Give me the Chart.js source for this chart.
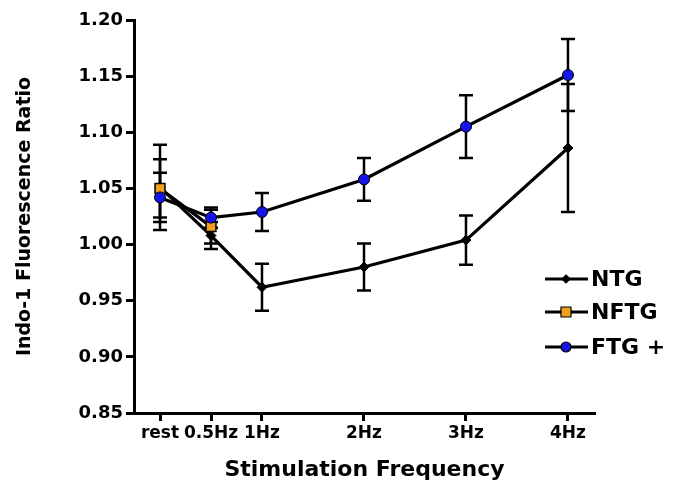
<!DOCTYPE html>
<html>
<head>
<meta charset="utf-8">
<script src="https://cdn.jsdelivr.net/npm/chart.js@4"></script>
<style>
  html, body { margin: 0; padding: 0; background: #fff; }
  #wrap { width: 683px; height: 484px; position: relative; }
</style>
</head>
<body>
<div id="wrap"><canvas id="grafik"></canvas></div>
<script>
// frekvencije stimulacije (rest = 0 Hz)
const frekvencije = [0, 0.5, 1, 2, 3, 4];
const oznake = ['rest', '0.5Hz', '1Hz', '2Hz', '3Hz', '4Hz'];

const ntg = [1.051, 1.008, 0.962, 0.980, 1.004, 1.086];
const ntgGreska = [0.038, 0.012, 0.021, 0.021, 0.022, 0.057];

const nftg = [1.050, 1.016, null, null, null, null];
const nftgGreska = [0.026, 0.015, null, null, null, null];

const ftg = [1.042, 1.024, 1.029, 1.058, 1.105, 1.151];
const ftgGreska = [0.022, 0.009, 0.017, 0.019, 0.028, 0.032];

const yTicks = [0.85, 0.90, 0.95, 1.00, 1.05, 1.10, 1.15, 1.20];

const FONT = "'DejaVu Sans', sans-serif";

function tacke(vrijednosti) {
    return frekvencije.map((f, i) => ({ x: f, y: vrijednosti[i] }));
}

const greske = [ntgGreska, nftgGreska, ftgGreska];

const errorBars = {
    id: 'errorBars',
    beforeDatasetsDraw(chart) {
        const ctx = chart.ctx;
        const xs = chart.scales.x;
        const ys = chart.scales.y;
        ctx.save();
        ctx.strokeStyle = '#000';
        ctx.lineWidth = 2.5;
        chart.data.datasets.forEach((ds, di) => {
            ds.data.forEach((p, i) => {
                const e = greske[di][i];
                if (p.y == null || e == null) return;
                const px = xs.getPixelForValue(p.x);
                const top = ys.getPixelForValue(p.y + e);
                const bot = ys.getPixelForValue(p.y - e);
                ctx.beginPath();
                ctx.moveTo(px, top); ctx.lineTo(px, bot);
                ctx.moveTo(px - 7, top); ctx.lineTo(px + 7, top);
                ctx.moveTo(px - 7, bot); ctx.lineTo(px + 7, bot);
                ctx.stroke();
            });
        });
        ctx.restore();
    }
};

const legenda = {
    id: 'legenda',
    afterDraw(chart) {
        const ctx = chart.ctx;
        const x0 = chart.chartArea.right - 50;
        const stavke = [
            { t: 'NTG', y: 279, ds: chart.data.datasets[0] },
            { t: 'NFTG', y: 312, ds: chart.data.datasets[1] },
            { t: 'FTG +', y: 347, ds: chart.data.datasets[2] }
        ];
        ctx.save();
        stavke.forEach(s => {
            const cx = x0 + 21;
            ctx.strokeStyle = '#000';
            ctx.lineWidth = 3;
            ctx.beginPath();
            ctx.moveTo(x0, s.y); ctx.lineTo(x0 + 43, s.y);
            ctx.stroke();
            ctx.fillStyle = s.ds.pointBackgroundColor;
            ctx.lineWidth = 1.2;
            ctx.beginPath();
            if (s.ds.pointStyle === 'circle') {
                ctx.arc(cx, s.y, 5, 0, Math.PI * 2);
            } else if (s.ds.pointStyle === 'rect') {
                ctx.rect(cx - 5, s.y - 5, 10, 10);
            } else {
                ctx.moveTo(cx, s.y - 4); ctx.lineTo(cx + 4, s.y);
                ctx.lineTo(cx, s.y + 4); ctx.lineTo(cx - 4, s.y);
                ctx.closePath();
            }
            ctx.fill();
            ctx.stroke();
            ctx.fillStyle = '#000';
            ctx.font = 'bold 22px ' + FONT;
            ctx.textBaseline = 'middle';
            ctx.fillText(s.t, x0 + 46, s.y + 1);
        });
        ctx.restore();
    }
};

const osa = {
    display: true,
    color: '#000',
    width: 3
};

new Chart(document.getElementById('grafik'), {
    type: 'line',
    data: {
        datasets: [
            {
                label: 'NTG',
                data: tacke(ntg),
                borderColor: '#000',
                borderWidth: 3.2,
                pointStyle: 'rectRot',
                pointRadius: 5,
                pointBackgroundColor: '#000',
                pointBorderColor: '#000',
                pointBorderWidth: 1,
                order: 3
            },
            {
                label: 'NFTG',
                data: tacke(nftg),
                borderColor: '#000',
                borderWidth: 3.2,
                pointStyle: 'rect',
                pointRadius: 7,
                pointBackgroundColor: '#f0a020',
                pointBorderColor: '#000',
                pointBorderWidth: 1.5,
                spanGaps: false,
                order: 2
            },
            {
                label: 'FTG +',
                data: tacke(ftg),
                borderColor: '#000',
                borderWidth: 3.2,
                pointStyle: 'circle',
                pointRadius: 5.5,
                pointBackgroundColor: '#1515e8',
                pointBorderColor: '#000',
                pointBorderWidth: 1,
                order: 1
            }
        ]
    },
    options: {
        responsive: true,
        maintainAspectRatio: false,
        animation: false,
        layout: { padding: { left: 0, right: 88, top: 20, bottom: 0 } },
        plugins: {
            legend: { display: false },
            tooltip: { enabled: false }
        },
        scales: {
            x: {
                type: 'linear',
                min: -0.255,
                max: 4.265,
                border: osa,
                grid: { drawOnChartArea: false, tickLength: 8, tickWidth: 3, tickColor: '#000' },
                afterBuildTicks: s => { s.ticks = frekvencije.map(v => ({ value: v })); },
                afterFit: s => { s.height = 71; },
                ticks: {
                    color: '#000',
                    font: { family: FONT, weight: 'bold', size: 17 },
                    padding: 2,
                    maxRotation: 0,
                    autoSkip: false,
                    callback: v => oznake[frekvencije.indexOf(v)]
                },
                title: {
                    display: true,
                    text: 'Stimulation Frequency',
                    color: '#000',
                    font: { family: FONT, weight: 'bold', size: 22 },
                    padding: { top: 0, bottom: 1 }
                }
            },
            y: {
                min: 0.85,
                max: 1.20,
                border: osa,
                grid: { drawOnChartArea: false, tickLength: 8, tickWidth: 3, tickColor: '#000' },
                afterBuildTicks: s => { s.ticks = yTicks.map(v => ({ value: v })); },
                afterFit: s => { s.width = 134; },
                ticks: {
                    color: '#000',
                    font: { family: FONT, weight: 'bold', size: 18 },
                    padding: 3,
                    callback: v => v.toFixed(2)
                },
                title: {
                    display: true,
                    text: 'Indo-1 Fluorescence Ratio',
                    color: '#000',
                    font: { family: FONT, weight: 'bold', size: 19 },
                    padding: { top: 14, bottom: 0 }
                }
            }
        }
    },
    plugins: [errorBars, legenda]
});
</script>
</body>
</html>
